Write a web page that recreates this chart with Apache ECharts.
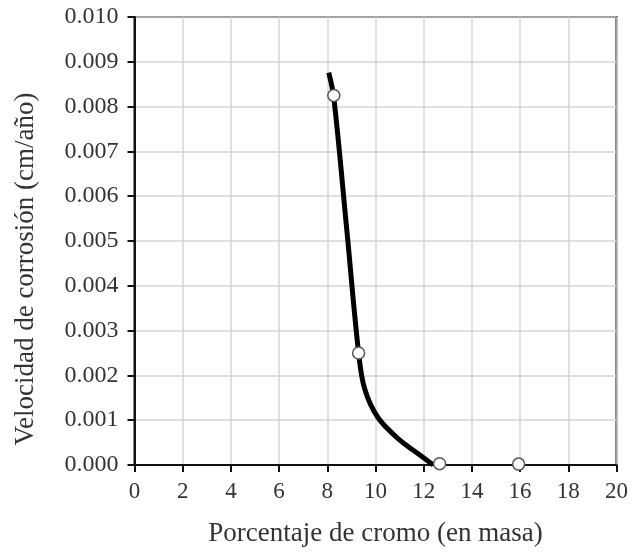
<!DOCTYPE html>
<html>
<head>
<meta charset="utf-8">
<script src="https://cdn.jsdelivr.net/npm/echarts@6/dist/echarts.min.js"></script>
<style>html,body{margin:0;padding:0;background:#fff;}#c{width:631px;height:552px;}</style>
</head>
<body>
<div id="c"></div>
<script>
var curveX = [8.06, 8.27, 8.8, 9.3, 9.55, 10.1, 11.0, 11.8, 12.4];
var curveY = [0.00876, 0.0082, 0.0053, 0.0025, 0.0017, 0.00106, 0.00056, 0.00024, 0.0];
var pointX = [8.27, 9.3, 12.66, 15.94];
var pointY = [0.00825, 0.0025, 0.00003, 0.00002];
var xTicks = [0, 2, 4, 6, 8, 10, 12, 14, 16, 18, 20];
var xName = 'Porcentaje de cromo (en masa)';
var yName = 'Velocidad de corrosión (cm/año)';

var chart = echarts.init(document.getElementById('c'), null, {renderer: 'canvas'});
var font = '"Liberation Serif", "DejaVu Serif", serif';
chart.setOption({
  animation: false,
  backgroundColor: '#fff',
  grid: {left: 134.5, right: 14, top: 17, bottom: 84, show: true, borderColor: '#111', borderWidth: 2},
  xAxis: {
    type: 'value', min: xTicks[0], max: xTicks[xTicks.length - 1], interval: 2,
    name: xName, nameLocation: 'middle', nameGap: 55,
    nameTextStyle: {fontFamily: font, fontSize: 27, color: '#333'},
    axisLine: {onZero: false, lineStyle: {color: '#111', width: 2}},
    axisTick: {show: true, length: 7, lineStyle: {color: '#111', width: 2}},
    axisLabel: {fontFamily: font, fontSize: 23, color: '#333', margin: 15},
    splitLine: {show: true, lineStyle: {color: '#d4d4d4', width: 1.5}}
  },
  yAxis: {
    type: 'value', min: 0, max: 0.010, interval: 0.001,
    name: yName, nameLocation: 'middle', nameGap: 95, nameRotate: 90,
    nameTextStyle: {fontFamily: font, fontSize: 27, color: '#333', padding: [0, 56, 0, 0]},
    axisLine: {lineStyle: {color: '#111', width: 2}},
    axisTick: {show: true, length: 7, lineStyle: {color: '#111', width: 2}},
    axisLabel: {fontFamily: font, fontSize: 24, color: '#333', margin: 16,
      formatter: function (v) { return v.toFixed(3); }},
    splitLine: {show: true, lineStyle: {color: '#d4d4d4', width: 1.5}}
  },
  series: [
    {
      type: 'line', data: curveX.map(function (x, i) { return [x, curveY[i]]; }),
      smooth: 0.35, showSymbol: false, symbol: 'none',
      lineStyle: {color: '#000', width: 5}, z: 3
    },
    {
      type: 'scatter', data: pointX.map(function (x, i) { return [x, pointY[i]]; }),
      symbol: 'circle', symbolSize: 12,
      itemStyle: {color: '#fff', borderColor: '#555', borderWidth: 1.5, opacity: 1}, z: 5
    }
  ]
});
</script>
</body>
</html>
